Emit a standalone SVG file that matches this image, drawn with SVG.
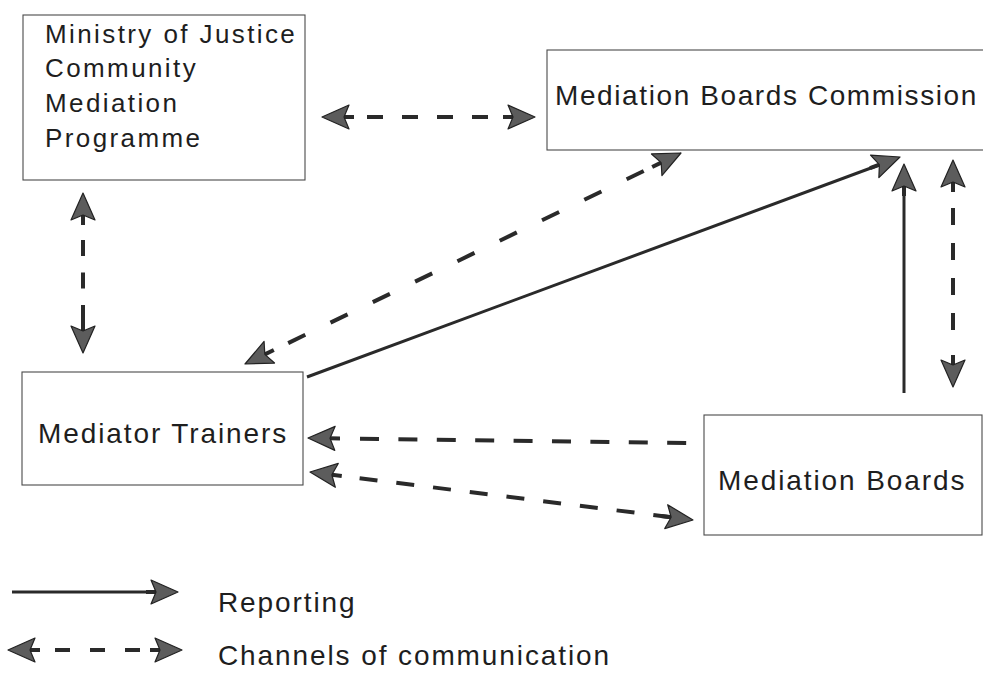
<svg xmlns="http://www.w3.org/2000/svg" xmlns:xlink="http://www.w3.org/1999/xlink" width="983" height="689" viewBox="0 0 983 689">
  <style>
    .box { fill: #ffffff; stroke: #4a4a4a; stroke-width: 1.1; }
    .lbl { font-family: "Liberation Sans", Arial, sans-serif; font-size: 28px; letter-spacing: 1.9px; fill: #1e1e1e; }
    .lbl.small { font-size: 26px; letter-spacing: 2.4px; }
    .lbl.tight { letter-spacing: 1.6px; }
    .dash { fill: none; stroke: #2a2a2a; stroke-width: 4; }
    .solid { fill: none; stroke: #2a2a2a; stroke-width: 3; }
    .stub { fill: none; stroke: #2a2a2a; stroke-width: 4; }
    .hd { fill: #5c5c5c; stroke: #222222; stroke-width: 1.2; stroke-linejoin: round; }
  </style>
  <defs>
    <!-- arrowhead pointing along +x, tip at the origin, with a short shaft stub -->
    <g id="ah">
      <path class="stub" d="M-22,0 H-32"/>
      <path class="hd" d="M0,0 L-27,-12 L-22,0 L-27,12 Z"/>
    </g>
  </defs>

  <rect width="983" height="689" fill="#ffffff"/>

  <!-- nodes -->
  <g id="node-ministry">
    <rect class="box" x="23" y="15" width="282" height="165"/>
    <text class="lbl small" x="45" y="43">Ministry of Justice</text>
    <text class="lbl small" x="45" y="77">Community</text>
    <text class="lbl small" x="45" y="112">Mediation</text>
    <text class="lbl small" x="45" y="147">Programme</text>
  </g>

  <g id="node-commission">
    <rect class="box" x="547" y="50" width="460" height="100"/>
    <text class="lbl tight" x="555" y="105">Mediation Boards Commission</text>
  </g>

  <g id="node-trainers">
    <rect class="box" x="22" y="372" width="281" height="113"/>
    <text class="lbl" x="38" y="443">Mediator Trainers</text>
  </g>

  <g id="node-boards">
    <rect class="box" x="704" y="415" width="278" height="120"/>
    <text class="lbl" x="718" y="490">Mediation Boards</text>
  </g>

  <!-- connectors -->
  <g id="connectors">
    <!-- ministry <-> commission -->
    <path class="dash" d="M367,117 H488" stroke-dasharray="16 19"/>
    <use xlink:href="#ah" href="#ah" transform="translate(322,117) rotate(180)"/>
    <use xlink:href="#ah" href="#ah" transform="translate(535,117)"/>

    <!-- ministry <-> trainers -->
    <path class="dash" d="M83,240 V321" stroke-dasharray="16 16.5"/>
    <use xlink:href="#ah" href="#ah" transform="translate(83,193) rotate(-90)"/>
    <use xlink:href="#ah" href="#ah" transform="translate(83,353) rotate(90)"/>

    <!-- commission <-> trainers (diagonal) -->
    <path class="dash" d="M288.2,343.1 L643.7,171" stroke-dasharray="19 28"/>
    <use xlink:href="#ah" href="#ah" transform="translate(245,364) rotate(154.2)"/>
    <use xlink:href="#ah" href="#ah" transform="translate(681,153) rotate(-25.8)"/>

    <!-- trainers -> commission (reporting) -->
    <path class="solid" d="M307,377 L879,165"/>
    <use xlink:href="#ah" href="#ah" transform="translate(900,157) rotate(-20.35)"/>

    <!-- boards -> commission (reporting) -->
    <path class="solid" d="M904,393 V186"/>
    <use xlink:href="#ah" href="#ah" transform="translate(904,164) rotate(-90)"/>

    <!-- commission <-> boards -->
    <path class="dash" d="M953,208 V330" stroke-dasharray="17 18"/>
    <use xlink:href="#ah" href="#ah" transform="translate(953,160) rotate(-90)"/>
    <use xlink:href="#ah" href="#ah" transform="translate(953,387) rotate(90)"/>

    <!-- boards -> trainers -->
    <path class="dash" d="M360,438.7 L687,443" stroke-dasharray="19 19.4"/>
    <use xlink:href="#ah" href="#ah" transform="translate(308,438) rotate(180.76)"/>

    <!-- trainers <-> boards -->
    <path class="dash" d="M359.6,478.2 L671.2,517.2" stroke-dasharray="18 19"/>
    <use xlink:href="#ah" href="#ah" transform="translate(310,472) rotate(187.14)"/>
    <use xlink:href="#ah" href="#ah" transform="translate(693,520) rotate(7.14)"/>
  </g>

  <!-- legend -->
  <g id="legend">
    <path class="solid" d="M12,592 H156"/>
    <use xlink:href="#ah" href="#ah" transform="translate(178,592)"/>
    <text class="lbl" x="218" y="612">Reporting</text>

    <path class="dash" d="M55,650 H140" stroke-dasharray="15 20"/>
    <use xlink:href="#ah" href="#ah" transform="translate(8,650) rotate(180)"/>
    <use xlink:href="#ah" href="#ah" transform="translate(182,650)"/>
    <text class="lbl" x="218" y="665">Channels of communication</text>
  </g>
</svg>
